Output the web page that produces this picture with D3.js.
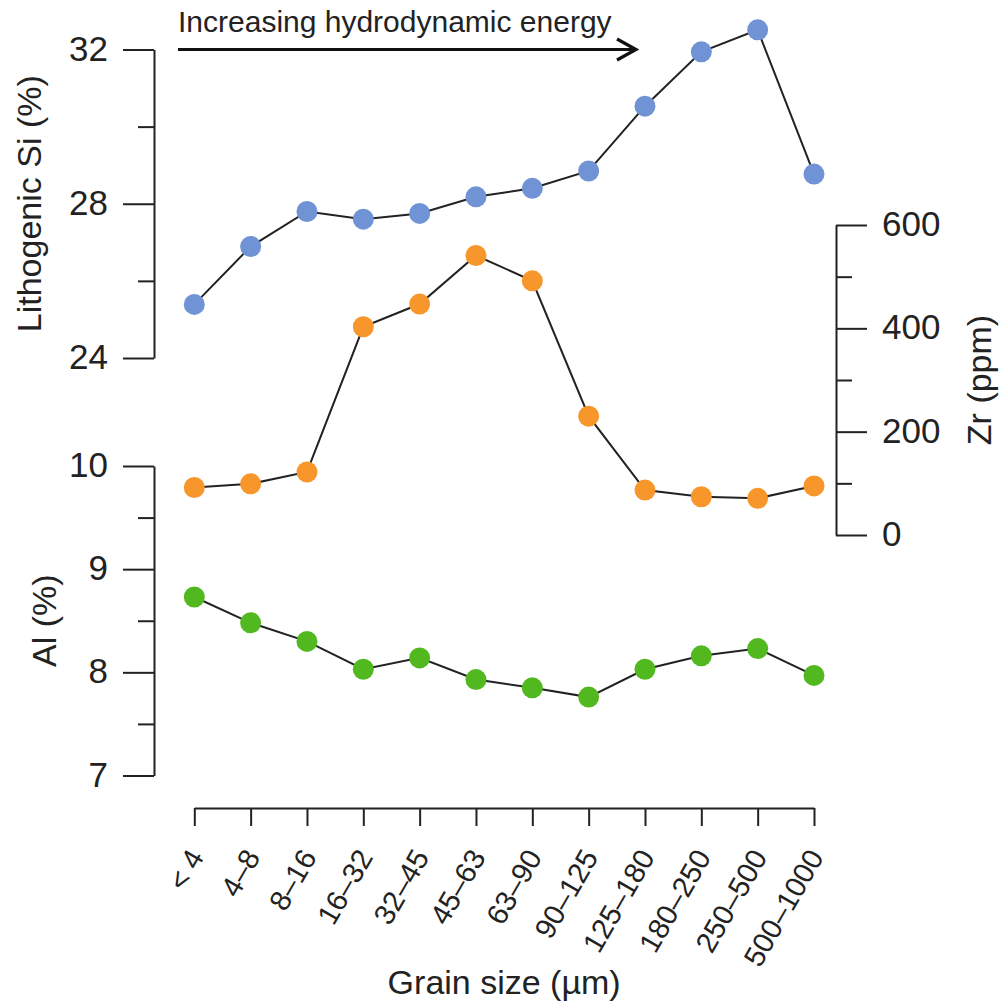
<!DOCTYPE html>
<html>
<head>
<meta charset="utf-8">
<script src="https://cdn.jsdelivr.net/npm/d3@7"></script>
<style>
  html, body { margin: 0; padding: 0; background: #fff; }
  svg { display: block; font-family: "Liberation Sans", Arial, Helvetica, sans-serif; }
  .axis path, .axis line { stroke: #222; stroke-width: 2; }
  .axis text { fill: #222; }
</style>
</head>
<body>
<svg width="1001" height="1004"></svg>
<script>
// grain size classes (µm)
var grainSizes = ["< 4", "4–8", "8–16", "16–32", "32–45", "45–63", "63–90", "90–125", "125–180", "180–250", "250–500", "500–1000"];

// lithogenic Si (%)
var siValues = [25.39, 26.89, 27.80, 27.60, 27.75, 28.18, 28.40, 28.85, 30.53, 31.94, 32.51, 28.77];
// Zr (ppm)
var zrValues = [92, 99, 122, 403, 447, 541, 492, 230, 87, 74, 71, 95];
// Al (%)
var alValues = [8.73, 8.48, 8.30, 8.03, 8.14, 7.93, 7.85, 7.76, 8.03, 8.16, 8.23, 7.97];

var siTicks = [24, 28, 32], siMinor = [26, 30];
var zrTicks = [0, 200, 400, 600], zrMinor = [100, 300, 500];
var alTicks = [7, 8, 9, 10], alMinor = [7.5, 8.5, 9.5];

var svg = d3.select("svg");

var x = d3.scalePoint().domain(grainSizes).range([194.3, 814]);
var ySi = d3.scaleLinear().domain([24, 32]).range([358, 49.5]);
var yZr = d3.scaleLinear().domain([0, 600]).range([535, 225]);
var yAl = d3.scaleLinear().domain([7, 10]).range([775.5, 466]);

function yAxis(g, axisFn, scale, major, minor, tx) {
	g.append("g")
		.attr("class", "axis")
		.attr("transform", "translate(" + tx + ",0)")
		.call(axisFn(scale).tickValues(major).tickSize(31).tickSizeOuter(0).tickPadding(15).tickFormat(d3.format("d")))
		.selectAll("text")
		.style("font-size", "35px")
		.attr("dy", "0.30em");
	g.append("g")
		.attr("class", "axis")
		.attr("transform", "translate(" + tx + ",0)")
		.call(axisFn(scale).tickValues(minor).tickSize(16).tickFormat(""))
		.select(".domain").remove();
}

yAxis(svg, d3.axisLeft, ySi, siTicks, siMinor, 154);
yAxis(svg, d3.axisLeft, yAl, alTicks, alMinor, 154);
yAxis(svg, d3.axisRight, yZr, zrTicks, zrMinor, 836);

// x axis
var xAxis = svg.append("g")
	.attr("class", "axis")
	.attr("transform", "translate(0,808)")
	.call(d3.axisBottom(x).tickSize(18).tickSizeOuter(0));
xAxis.selectAll("text")
	.style("font-size", "29px")
	.attr("text-anchor", "end")
	.attr("y", 0)
	.attr("dy", 0)
	.attr("transform", "translate(10,49) rotate(-60)");

// axis titles
svg.append("text")
	.attr("transform", "translate(41," + ((ySi(24) + ySi(32)) / 2) + ") rotate(-90)")
	.attr("text-anchor", "middle")
	.style("font-size", "34px")
	.attr("fill", "#222")
	.text("Lithogenic Si (%)");

svg.append("text")
	.attr("transform", "translate(56," + ((yAl(7) + yAl(10)) / 2) + ") rotate(-90)")
	.attr("text-anchor", "middle")
	.style("font-size", "34px")
	.attr("fill", "#222")
	.text("Al (%)");

svg.append("text")
	.attr("transform", "translate(991," + ((yZr(0) + yZr(600)) / 2) + ") rotate(-90)")
	.attr("text-anchor", "middle")
	.style("font-size", "34px")
	.attr("fill", "#222")
	.text("Zr (ppm)");

svg.append("text")
	.attr("x", (x.range()[0] + x.range()[1]) / 2)
	.attr("y", 994)
	.attr("text-anchor", "middle")
	.style("font-size", "34px")
	.attr("fill", "#222")
	.text("Grain size (µm)");

// hydrodynamic energy arrow
svg.append("text")
	.attr("x", 178)
	.attr("y", 32)
	.style("font-size", "30px")
	.attr("fill", "#222")
	.text("Increasing hydrodynamic energy");
svg.append("line")
	.attr("x1", 178).attr("x2", 635)
	.attr("y1", 49.5).attr("y2", 49.5)
	.attr("stroke", "#111").attr("stroke-width", 3);
svg.append("path")
	.attr("d", "M617,39 L636,49.5 L617,60")
	.attr("fill", "none")
	.attr("stroke", "#111").attr("stroke-width", 3.2);

// series
var series = [
	{ values: siValues, y: ySi, color: "#7093d5" },
	{ values: zrValues, y: yZr, color: "#f6962b" },
	{ values: alValues, y: yAl, color: "#52b81f" }
];

series.forEach(function(s) {
	var line = d3.line()
		.x(function(d, i) { return x(grainSizes[i]); })
		.y(function(d) { return s.y(d); });

	svg.append("path")
		.datum(s.values)
		.attr("d", line)
		.attr("fill", "none")
		.attr("stroke", "#222")
		.attr("stroke-width", 2);

	svg.append("g")
		.selectAll("circle")
		.data(s.values)
		.enter().append("circle")
		.attr("cx", function(d, i) { return x(grainSizes[i]); })
		.attr("cy", function(d) { return s.y(d); })
		.attr("r", 10.5)
		.attr("fill", s.color);
});
</script>
</body>
</html>
